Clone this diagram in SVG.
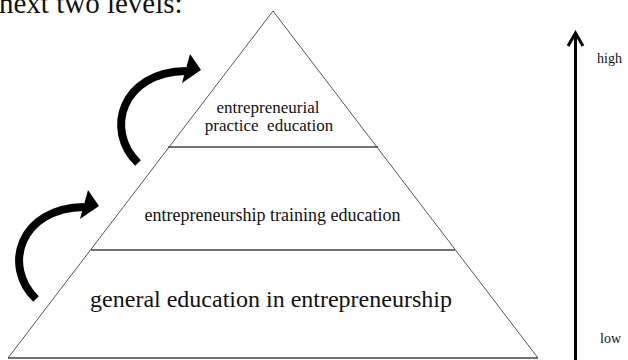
<svg xmlns="http://www.w3.org/2000/svg" width="628" height="360" viewBox="0 0 628 360">
  <style>
    .t { font-family: "Liberation Serif", "Times New Roman", serif; fill: #111; }
    .edge { stroke: #555; stroke-width: 1; fill: none; }
    .tier { stroke: #444; stroke-width: 1.6; fill: none; }
    .shaft { stroke: #000; stroke-width: 8; fill: none; stroke-linecap: butt; }
  </style>
  <defs>
    <!-- curved "level up" arrow, drawn in the position of the lower one -->
    <g id="curl">
      <path class="shaft" d="M 36 299 C 2 266, 20 208, 84 207"/>
      <polygon points="88,190 99,206 80,219" fill="#000"/>
    </g>
  </defs>
  <rect width="628" height="360" fill="#fff"/>

  <!-- partial caption line above the figure -->
  <text class="t" x="-1" y="13" font-size="29">next two levels:</text>

  <!-- pyramid -->
  <g id="pyramid">
    <path class="edge" d="M 8 358 L 273 11 L 538 358"/>
    <line class="tier" x1="8" y1="358" x2="538" y2="358"/>
  </g>

  <g id="level-top">
    <line class="tier" x1="168" y1="147" x2="378" y2="147"/>
    <text class="t" x="268" y="113" font-size="17" text-anchor="middle">entrepreneurial</text>
    <text class="t" x="269" y="131" font-size="17" text-anchor="middle" xml:space="preserve">practice  education</text>
  </g>

  <g id="level-middle">
    <line class="tier" x1="91" y1="250" x2="455" y2="250"/>
    <text class="t" x="272.5" y="221" font-size="18" text-anchor="middle">entrepreneurship training education</text>
  </g>

  <g id="level-bottom">
    <text class="t" x="271" y="307" font-size="24" text-anchor="middle">general education in entrepreneurship</text>
  </g>

  <!-- transitions between levels -->
  <g id="connectors">
    <use href="#curl"/>
    <use href="#curl" transform="translate(102,-136)"/>
  </g>

  <!-- scale axis -->
  <g id="axis">
    <line x1="575.5" y1="34" x2="575.5" y2="360" stroke="#000" stroke-width="3"/>
    <polyline points="568,46 575.5,33 583,46" fill="none" stroke="#000" stroke-width="3"/>
    <text class="t" x="597" y="63" font-size="14">high</text>
    <text class="t" x="600" y="343" font-size="14">low</text>
  </g>
</svg>
